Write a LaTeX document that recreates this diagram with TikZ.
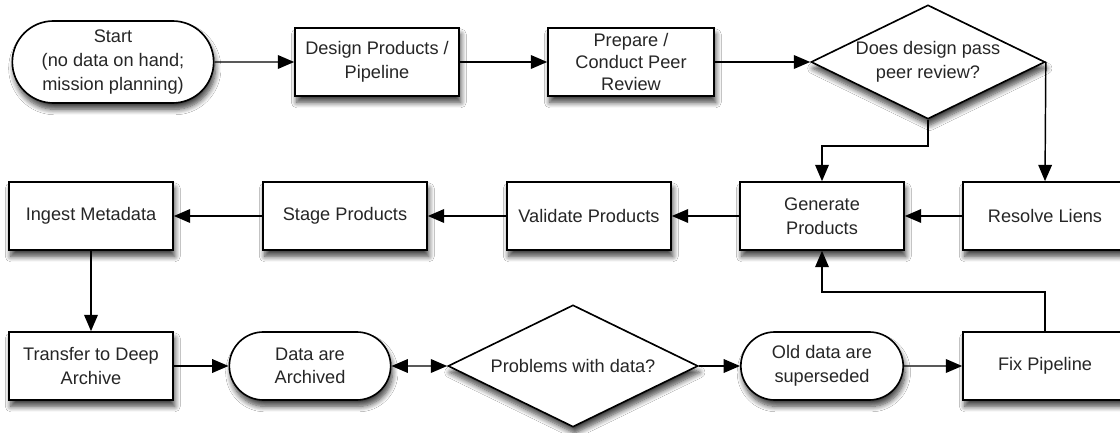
\documentclass[tikz,border=0pt]{standalone}
\usepackage{fontspec}
\setmainfont{Liberation Sans}
\usetikzlibrary{shapes.geometric,shapes.misc,arrows.meta,shadows.blur}
\newcommand{\px}{0.55pt}
\begin{document}
\begin{tikzpicture}[x=0.55pt,y=-0.55pt,
    font=\fontsize{10}{13}\selectfont,
    every node/.style={text=black!85, align=center},
    shade/.style={blur shadow={shadow xshift=1pt, shadow yshift=-3.5pt, shadow blur steps=8, shadow blur radius=3pt, shadow opacity=75}},
    box/.style={draw, line width=0.9pt, fill=white, shade, minimum width=164*\px, minimum height=68*\px, inner sep=1pt},
    term/.style={rounded rectangle, draw, line width=0.9pt, fill=white, shade, minimum width=165*\px, minimum height=68*\px, inner sep=1pt},
    ask/.style={diamond, aspect=2, draw, line width=0.9pt, fill=white, shade, inner sep=0pt},
    tip/.tip={Triangle[length=9pt,width=7.5pt]},
    link/.style={line width=0.8pt, -tip}]
    \useasboundingbox (0,0) rectangle (1120,433);
    \clip (0,0) rectangle (1120,433);
    \fill[white] (0,0) rectangle (1120,433);
    % top row
    \node[term, minimum width=205*\px, minimum height=82*\px] (start) at (113,62) {Start\\(no data on hand;\\mission planning)};
    \node[box] (design) at (377,62) {Design Products /\\Pipeline};
    \node[box, minimum width=166*\px, font=\fontsize{10}{12}\selectfont] (prepare) at (631,62) {Prepare /\\Conduct Peer\\Review};
    \node[ask, minimum width=234*\px, minimum height=114*\px] (review) at (928,62) {Does design pass\\peer review?};
    % middle row
    \node[box] (ingest) at (91,216) {Ingest Metadata};
    \node[box] (stage) at (345,216) {Stage Products};
    \node[box] (validate) at (589,216) {Validate Products};
    \node[box] (generate) at (822,216) {Generate\\Products};
    \node[box] (resolve) at (1045,216) {Resolve Liens};
    % bottom row
    \node[box] (transfer) at (91,366) {Transfer to Deep\\Archive};
    \node[term] (archived) at (310,366) {Data are\\Archived};
    \node[ask, minimum width=250*\px, minimum height=122*\px] (problems) at (573,366) {Problems with data?};
    \node[term, minimum width=166*\px] (old) at (822,366) {Old data are\\superseded};
    \node[box] (fix) at (1045,366) {Fix Pipeline};
    \coordinate (bendA) at (822,146);
    \coordinate (bendB) at (822,292);

    \draw[link] (start) -- (design);
    \draw[link] (design) -- (prepare);
    \draw[link] (prepare) -- (review);
    \draw[link] (review.south) |- (bendA) -- (generate.north);
    \draw[link] (review.east) -- (resolve.north);
    \draw[link] (resolve) -- (generate);
    \draw[link] (generate) -- (validate);
    \draw[link] (validate) -- (stage);
    \draw[link] (stage) -- (ingest);
    \draw[link] (ingest) -- (transfer);
    \draw[link] (transfer) -- (archived);
    \draw[link, tip-tip] (archived) -- (problems);
    \draw[link] (problems) -- (old);
    \draw[link] (old) -- (fix);
    \draw[link] (fix.north) |- (bendB) -- (generate.south);
\end{tikzpicture}
\end{document}
